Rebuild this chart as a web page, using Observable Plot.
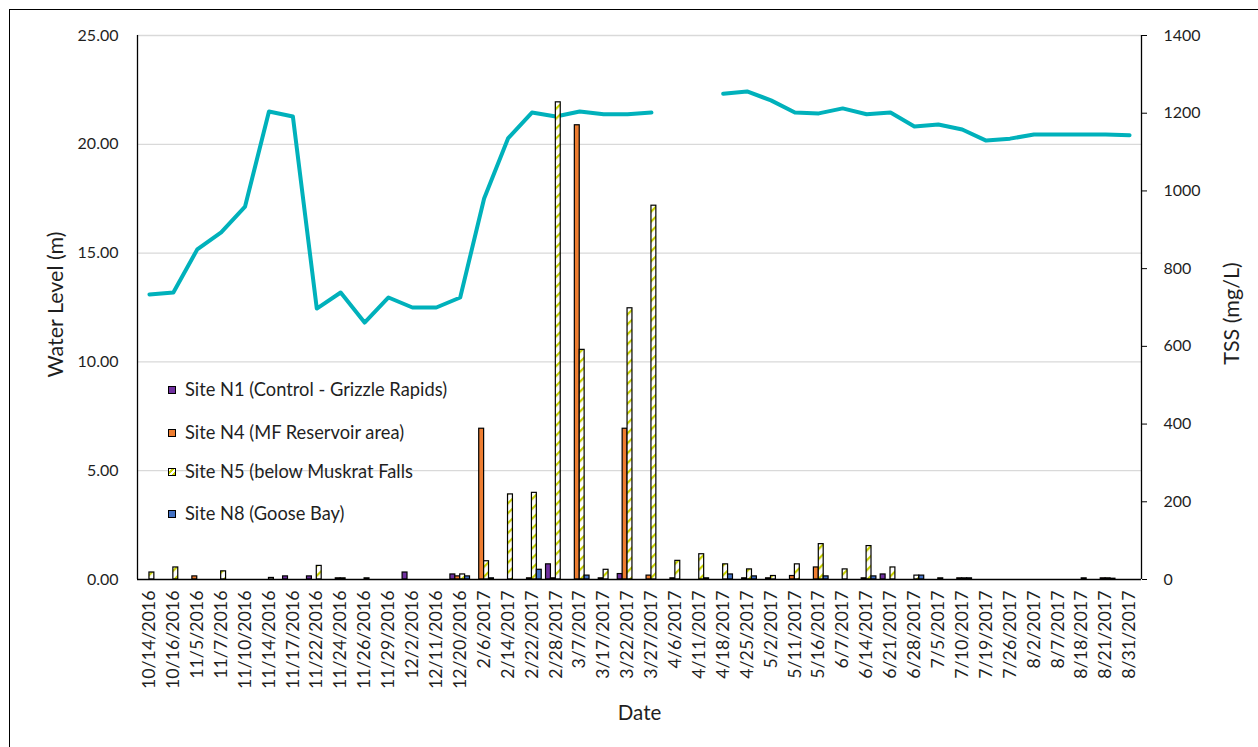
<!DOCTYPE html>
<html>
<head>
<meta charset="utf-8">
<script src="https://cdn.jsdelivr.net/npm/d3@7"></script>
<script src="https://cdn.jsdelivr.net/npm/@observablehq/plot@0.6"></script>
<style>
  html, body { margin: 0; padding: 0; background: #fff; overflow: hidden; }
  #wrap { position: relative; width: 1258px; height: 747px; overflow: hidden; font-family: Lato, sans-serif; }
  #border { position: absolute; left: 9px; top: 9px; width: 1300px; height: 800px; border: 1px solid #000; pointer-events: none; }
  #legend { position: absolute; left: 0; top: 0; font-size: 18.3px; color: #1f1f1f; }
  .lg { position: absolute; left: 168px; height: 22px; line-height: 22px; white-space: nowrap; }
  .sw { display: inline-block; width: 6px; height: 6px; border: 1px solid #000; margin-right: 9px; vertical-align: 2px; }
</style>
</head>
<body>
<div id="wrap"><div id="chart"></div><div id="legend"></div><div id="border"></div></div>
<script>
const dates = ["10/14/2016","10/16/2016","11/5/2016","11/7/2016","11/10/2016","11/14/2016","11/17/2016","11/22/2016","11/24/2016","11/26/2016","11/29/2016","12/2/2016","12/11/2016","12/20/2016","2/6/2017","2/14/2017","2/22/2017","2/28/2017","3/7/2017","3/17/2017","3/22/2017","3/27/2017","4/6/2017","4/11/2017","4/18/2017","4/25/2017","5/2/2017","5/11/2017","5/16/2017","6/7/2017","6/14/2017","6/21/2017","6/28/2017","7/5/2017","7/10/2017","7/19/2017","7/26/2017","8/2/2017","8/7/2017","8/18/2017","8/21/2017","8/31/2017"];

// Water level (m), left axis
const waterLevel = [13.10,13.19,15.17,15.95,17.14,21.51,21.28,12.45,13.19,11.81,12.96,12.50,12.50,12.96,17.51,20.27,21.46,21.28,21.51,21.38,21.38,21.46,null,null,22.32,22.43,22.02,21.46,21.42,21.65,21.38,21.46,20.82,20.91,20.68,20.17,20.26,20.45,20.45,20.45,20.45,20.42];

// TSS (mg/L), right axis
const tssN1 = [0,0,0,0,0,0,8,8,0,0,0,18,0,13,0,0,0,39,0,0,14,0,0,0,0,0,0,0,0,0,0,13,0,0,0,0,0,0,0,0,0,0];
const tssN4 = [0,0,8,0,0,0,0,0,3,0,0,0,0,8,388,0,3,3,1169,3,388,10,3,0,0,3,3,9,31,0,3,0,0,0,3,0,0,0,0,0,3,0];
const tssN5 = [18,31,0,21,0,4,0,35,3,3,0,0,0,13,47,219,223,1228,591,25,698,962,48,65,39,26,9,39,91,26,86,31,10,3,3,0,0,0,0,3,3,0];
const tssN8 = [0,0,0,0,0,0,0,0,0,0,0,0,0,8,3,0,25,0,10,0,0,0,0,3,13,8,0,0,8,0,8,0,10,0,3,0,0,0,0,0,2,0];

const siteNames = ["Site N1 (Control - Grizzle Rapids)","Site N4 (MF Reservoir area)","Site N5 (below Muskrat Falls","Site N8 (Goose Bay)"];
const siteFills = ["#7030a0","#ed7d31","url(#n5stripes)","#4472c4"];
const leftTicks = [0,5,10,15,20,25];
const rightTicks = [0,200,400,600,800,1000,1200,1400];

const K = 1400 / 25; // left-axis unit -> right-axis unit
const groupW = 0.82, barW = groupW / 4;
const series = [tssN1, tssN4, tssN5, tssN8];

const barMarks = series.map((arr, k) => {
  const rows = arr.map((v, i) => ({i, v})).filter(d => d.v > 0);
  return Plot.rectY(rows, {
    x1: d => d.i - groupW / 2 + k * barW,
    x2: d => d.i - groupW / 2 + (k + 1) * barW,
    y1: 0, y2: "v",
    fill: siteFills[k], stroke: "#000", strokeWidth: 1.2
  });
});

const lineData = waterLevel.map((w, i) => ({i, y: w == null ? NaN : w * K}));

const svg = Plot.plot({
  width: 1258, height: 747,
  marginLeft: 137, marginRight: 117, marginTop: 35, marginBottom: 168,
  style: {fontFamily: "Lato, sans-serif", fontSize: "16px", color: "#1f1f1f", background: "white", overflow: "visible"},
  x: {type: "linear", domain: [-0.5, 41.5]},
  y: {domain: [0, 1400]},
  marks: [
    Plot.ruleY(leftTicks.slice(1), {y: d => d * K, stroke: "#d9d9d9", strokeWidth: 1.3}),
    Plot.line(lineData, {x: "i", y: "y", stroke: "#00b1bb", strokeWidth: 4, strokeLinejoin: "round", strokeLinecap: "round"}),
    ...barMarks,
    Plot.ruleY([0], {stroke: "#000", strokeWidth: 1.3}),
    Plot.ruleX([-0.5, 41.5], {stroke: "#000", strokeWidth: 1.3}),
    Plot.axisY({anchor: "left", ticks: leftTicks.map(d => d * K), tickFormat: d => (d / K).toFixed(2), tickSize: 0, tickPadding: 19, fontSize: 16, label: null}),
    Plot.axisY({anchor: "right", ticks: rightTicks, tickFormat: d => String(d), tickSize: 5, tickPadding: 17, stroke: "#000", fontSize: 16, label: null}),
    Plot.axisX({ticks: d3.range(dates.length), tickFormat: i => dates[i], tickRotate: -90, tickSize: 0, tickPadding: 11, fontSize: 17.8, label: null}),
    Plot.text(["Water Level (m)"], {text: d => d, frameAnchor: "left", textAnchor: "middle", dx: -81, dy: -3, rotate: -90, fontSize: 21.5}),
    Plot.text(["TSS (mg/L)"], {text: d => d, frameAnchor: "right", textAnchor: "middle", dx: 91, dy: 6, rotate: -90, fontSize: 21.5}),
    Plot.text(["Date"], {text: d => d, frameAnchor: "bottom", textAnchor: "middle", dy: 140, fontSize: 20.5})
  ]
});

// striped pattern for Site N5
const ns = "http://www.w3.org/2000/svg";
const defs = document.createElementNS(ns, "defs");
defs.innerHTML = '<pattern id="n5stripes" patternUnits="userSpaceOnUse" width="7" height="7" patternTransform="rotate(45)"><rect width="7" height="7" fill="#fff"/><rect width="2.2" height="7" fill="#c8d100"/></pattern>';
svg.insertBefore(defs, svg.firstChild);
document.getElementById("chart").appendChild(svg);

// legend
const legend = document.getElementById("legend");
const legendY = [389, 432, 471, 513];
const swatchCss = ["#7030a0", "#ed7d31", "repeating-linear-gradient(135deg,#fff 0 2px,#c8d100 2px 4px)", "#4472c4"];
siteNames.forEach((name, k) => {
  const row = document.createElement("div");
  row.className = "lg";
  row.style.top = (legendY[k] - 11) + "px";
  const sw = document.createElement("span");
  sw.className = "sw";
  sw.style.background = swatchCss[k];
  row.appendChild(sw);
  row.appendChild(document.createTextNode(name));
  legend.appendChild(row);
});
</script>
</body>
</html>
